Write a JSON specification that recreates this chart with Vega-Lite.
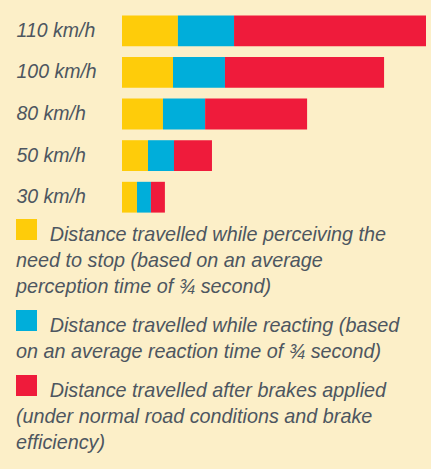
{
  "$schema": "https://vega.github.io/schema/vega-lite/v6.json",
  "width": 304,
  "height": 208,
  "autosize": {"type": "none"},
  "padding": {"left": 122, "top": 10, "right": 5, "bottom": 251},
  "background": "#FCEFC8",
  "config": {"view": {"stroke": null}},
  "data": {
    "values": [
      {"speed": "110 km/h", "phase": "Perceiving", "step": 1, "metres": 22.8},
      {"speed": "110 km/h", "phase": "Reacting", "step": 2, "metres": 22.9},
      {"speed": "110 km/h", "phase": "Braking", "step": 3, "metres": 78.3},
      {"speed": "100 km/h", "phase": "Perceiving", "step": 1, "metres": 20.8},
      {"speed": "100 km/h", "phase": "Reacting", "step": 2, "metres": 21.2},
      {"speed": "100 km/h", "phase": "Braking", "step": 3, "metres": 64.9},
      {"speed": "80 km/h", "phase": "Perceiving", "step": 1, "metres": 16.7},
      {"speed": "80 km/h", "phase": "Reacting", "step": 2, "metres": 17.2},
      {"speed": "80 km/h", "phase": "Braking", "step": 3, "metres": 41.6},
      {"speed": "50 km/h", "phase": "Perceiving", "step": 1, "metres": 10.6},
      {"speed": "50 km/h", "phase": "Reacting", "step": 2, "metres": 10.6},
      {"speed": "50 km/h", "phase": "Braking", "step": 3, "metres": 15.5},
      {"speed": "30 km/h", "phase": "Perceiving", "step": 1, "metres": 6.1},
      {"speed": "30 km/h", "phase": "Reacting", "step": 2, "metres": 5.7},
      {"speed": "30 km/h", "phase": "Braking", "step": 3, "metres": 5.7}
    ]
  },
  "mark": {"type": "bar"},
  "encoding": {
    "y": {
      "field": "speed",
      "type": "nominal",
      "sort": ["110 km/h", "100 km/h", "80 km/h", "50 km/h", "30 km/h"],
      "scale": {"paddingInner": 0.26, "paddingOuter": 0.13},
      "axis": {
        "title": null,
        "domain": false,
        "ticks": false,
        "tickSize": 0,
        "labelAlign": "left",
        "labelPadding": 106,
        "labelFont": "Liberation Sans",
        "labelFontStyle": "italic",
        "labelFontSize": 19.5,
        "labelColor": "#4d5660",
        "labelLimit": 200
      }
    },
    "x": {
      "field": "metres",
      "type": "quantitative",
      "stack": "zero",
      "scale": {"domain": [0, 124], "nice": false},
      "axis": null
    },
    "order": {"field": "step", "type": "quantitative"},
    "color": {
      "field": "phase",
      "type": "nominal",
      "scale": {
        "domain": ["Perceiving", "Reacting", "Braking"],
        "range": ["#FECC0A", "#00AEDA", "#EF1B3B"]
      },
      "legend": {
        "title": null,
        "orient": "none",
        "legendX": -106,
        "legendY": 209,
        "direction": "vertical",
        "columns": 1,
        "padding": 0,
        "symbolType": "square",
        "symbolSize": 441,
        "symbolStrokeWidth": 0,
        "symbolOpacity": 1,
        "labelOffset": -21,
        "labelBaseline": "top",
        "labelFont": "Liberation Sans",
        "labelFontStyle": "italic",
        "labelFontSize": 19.8,
        "labelColor": "#4d5660",
        "labelLimit": 500,
        "rowPadding": 13,
        "labelExpr": "datum.label == 'Perceiving' ? ['\u200b\u2003\u2002\u2009Distance travelled while perceiving the', 'need to stop (based on an average', 'perception time of ¾ second)'] : datum.label == 'Reacting' ? ['\u200b\u2003\u2002\u2009Distance travelled while reacting (based', 'on an average reaction time of ¾ second)'] : ['\u200b\u2003\u2002\u2009Distance travelled after brakes applied', '(under normal road conditions and brake', 'efficiency)']",
        "encode": {"labels": {"update": {"lineHeight": {"value": 26}, "dy": {"value": -4.6}}}}
      }
    }
  }
}
